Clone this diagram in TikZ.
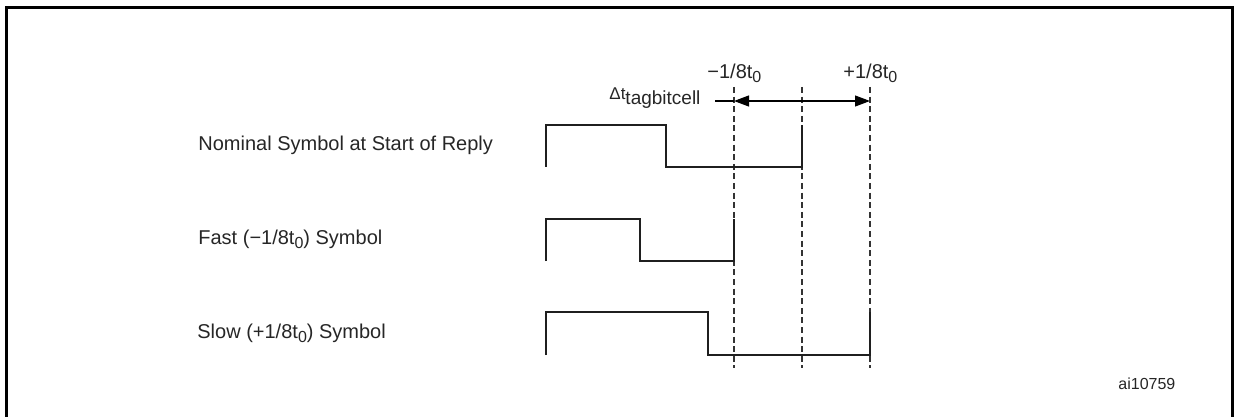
\documentclass[tikz,border=0pt]{standalone}
\usepackage{fontspec}
\setmainfont{Liberation Sans}
\usetikzlibrary{arrows.meta}
\newcommand{\tsub}[1]{\raisebox{-2pt}{\fontsize{8pt}{9pt}\selectfont #1}}
\begin{document}
\begin{tikzpicture}[x=0.5pt,y=-0.5pt,
  frame/.style={line width=1.5pt,line join=miter,black},
  wave/.style={line width=1.3pt,line join=miter,black!88},
  dashline/.style={line width=0.6pt,black!80,dash pattern=on 3pt off 1.8pt},
  lbl/.style={inner sep=0pt,text=black!85,font=\fontsize{10pt}{12pt}\selectfont},
  small/.style={inner sep=0pt,text=black!85,font=\fontsize{8pt}{10pt}\selectfont},
  dim/.style={line width=0.55pt,black}]
\useasboundingbox (0,0) rectangle (1237,417);
% frame
\draw[frame] (6,430) -- (6,7.5) -- (1232.5,7.5) -- (1232.5,430);
% dashed reference lines
\coordinate (d1t) at (734,87);  \coordinate (d1b) at (734,368);
\coordinate (d2t) at (802,87);  \coordinate (d2b) at (802,368);
\coordinate (d3t) at (870,87);  \coordinate (d3b) at (870,368);
\draw[dashline] (d1t) -- (d1b);
\draw[dashline] (d2t) -- (d2b);
\draw[dashline] (d3t) -- (d3b);
% labels on the left
\node[lbl,anchor=base west] (nom) at (198,151) {Nominal Symbol at Start of Reply};
\node[lbl,anchor=base west] (fast) at (198,244) {Fast (−1/8t\tsub{0}) Symbol};
\node[lbl,anchor=base west] (slow) at (197,338) {Slow (+1/8t\tsub{0}) Symbol};
% waveforms
\draw[wave] (546,167) -- (546,125) -- (666,125) -- (666,167) -- (802,167) -- (802,125);
\draw[wave] (546,261) -- (546,219) -- (640,219) -- (640,261) -- (734,261) -- (734,219);
\draw[wave] (546,355) -- (546,312) -- (708,312) -- (708,355) -- (870,355) -- (870,312);
% top labels
\node[lbl,anchor=base west] (minus) at (707,79) {−1/8t\tsub{0}};
\node[lbl,anchor=base west] (plus) at (843,79) {+1/8t\tsub{0}};
\node[inner sep=0pt,text=black!85,anchor=base west] (dt) at (609,99.5)
  {{\fontsize{8.5pt}{9pt}\selectfont Δt}\raisebox{-2.3pt}{\fontsize{9.5pt}{11pt}\selectfont tagbitcell}};
% dimension arrow
\coordinate (lead) at (715,101);
\coordinate (am) at (734,101);
\coordinate (ap) at (870,101);
\draw[dim] (lead) -- (am);
\draw[dim,{Triangle[length=7.5pt,width=5.5pt]}-{Triangle[length=7.5pt,width=5.5pt]}] (am) -- (ap);
% figure id
\node[small,anchor=base west] (id) at (1118,389) {ai10759};
\end{tikzpicture}
\end{document}
